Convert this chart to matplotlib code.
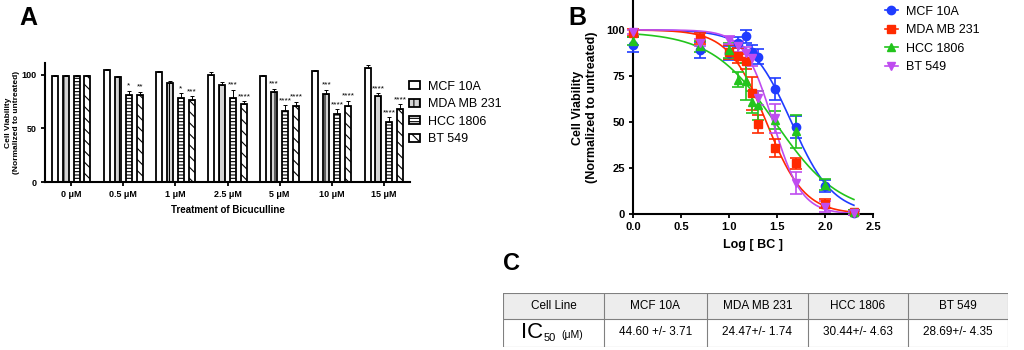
import numpy as np
import matplotlib.pyplot as plt
from matplotlib.patches import Patch, Rectangle
from matplotlib.lines import Line2D

plt.rcParams['font.family'] = ['Liberation Sans', 'DejaVu Sans']
plt.rcParams['hatch.linewidth'] = 0.8

# ---- panel A: bar data ----
doses = ['0 μM', '0.5 μM', '1 μM', '2.5 μM', '5 μM', '10 μM', '15 μM']
cell_lines = ['MCF 10A', 'MDA MB 231', 'HCC 1806', 'BT 549']
mcf_bar = [99, 104.5, 102.5, 99.7, 99, 103.4, 106]
mda_bar = [99, 97.5, 92.5, 90.4, 83.5, 82.3, 80.4]
hcc_bar = [99, 81.5, 78.5, 78, 65.8, 63.4, 55.6]
bt_bar = [99, 81, 76.4, 73, 71, 70.5, 68]
mcf_err = [0.5, 1, 1.5, 3, 1, 0.8, 3]
mda_err = [0.5, 1.5, 1.5, 3, 3.5, 3.7, 2.6]
hcc_err = [0.5, 3.5, 4.5, 8, 6, 4.6, 4.6]
bt_err = [0.5, 3, 3.5, 2.5, 4, 5.5, 4.7]
stars = [['', '', '', ''],
         ['', '', '*', '**'],
         ['', '', '*', '***'],
         ['', '', '***', '****'],
         ['', '***', '****', '****'],
         ['', '***', '****', '****'],
         ['', '****', '****', '****']]

# ---- panel B: dose response data ----
log_bc = [0, 0.699, 1.0, 1.097, 1.176, 1.243, 1.301, 1.477, 1.699, 2.0, 2.301]
mcf_via = [92, 89, 87.5, 93, 96.5, 88, 85.5, 68, 47.5, 15.2, 0.5]
mcf_sd = [4, 4.5, 4, 3, 3.5, 4, 4, 6, 6, 3, 1]
mda_via = [98.5, 95.5, 88, 86, 83, 65.5, 49, 35.7, 27.5, 5.5, 1]
mda_sd = [2, 3, 4, 4, 4, 9, 5, 5, 3, 2.5, 1]
hcc_via = [94, 91, 89, 73, 72, 61, 59, 51, 45, 16, 1]
hcc_sd = [2, 3, 4, 4, 10, 6, 8, 5, 9, 3, 1]
bt_via = [99, 93, 94.5, 91, 87.5, 84.5, 63, 52, 17, 4, 0.7]
bt_sd = [1, 2, 2, 3, 3, 4, 4, 8, 6, 3, 1]
hill = [2.0, 2.2, 1.3, 2.9]
top = [100, 100, 99, 100]

# ---- panel C: IC50 table ----
ic50_mean = [44.60, 24.47, 30.44, 28.69]
ic50_text = ['44.60 +/- 3.71', '24.47+/- 1.74', '30.44+/- 4.63', '28.69+/- 4.35']

fig = plt.figure(figsize=(10.24, 3.5), dpi=100)

# ================= A =================
ax = fig.add_axes([45/1024, 168/350, 365/1024, 119/350])
x = np.arange(len(doses))
w = 0.115
offs = [-0.315, -0.105, 0.105, 0.315]
bars = [mcf_bar, mda_bar, hcc_bar, bt_bar]
errs = [mcf_err, mda_err, hcc_err, bt_err]
faces = ['white', '#d4d4d4', 'white', 'white']
hatches = [None, '|||', '-----', '\\\\\\']
for i in range(4):
    ax.bar(x + offs[i], bars[i], w, color=faces[i], edgecolor='black',
           linewidth=1.3, hatch=hatches[i], zorder=2)
    ax.errorbar(x + offs[i], bars[i], yerr=[np.zeros(len(x)), errs[i]],
                fmt='none', ecolor='black', elinewidth=0.7, capsize=1.5,
                capthick=0.7, zorder=3)
    for j in range(len(x)):
        if stars[j][i]:
            ax.text(x[j] + offs[i], bars[i][j] + errs[i][j] + 1, stars[j][i],
                    ha='center', va='bottom', fontsize=6)
ax.set_xlim(-0.5, 6.5)
ax.set_ylim(0, 111)
ax.set_yticks([0, 50, 100])
ax.set_xticks(x)
ax.set_xticklabels(doses)
for s in ['top', 'right']:
    ax.spines[s].set_visible(False)
for s in ['left', 'bottom']:
    ax.spines[s].set_linewidth(1.5)
ax.tick_params(width=1.3, length=3, labelsize=6.5, pad=3)
for t in ax.get_xticklabels() + ax.get_yticklabels():
    t.set_fontweight('bold')
ax.set_ylabel('Cell Viability\n(Normalized to untreated)', fontsize=6,
              fontweight='bold', labelpad=1, linespacing=1.15)
ax.set_xlabel('Treatment of Bicuculline', fontsize=7, fontweight='bold', labelpad=4)

handles = [Patch(facecolor=faces[i], edgecolor='black', linewidth=1.3,
                 hatch=hatches[i]) for i in range(4)]
fig.legend(handles, cell_lines, loc='upper left', bbox_to_anchor=(409/1024, 0.77),
           frameon=False, fontsize=9, handlelength=0.85, handleheight=0.6,
           handletextpad=0.7, labelspacing=0.45, borderpad=0, borderaxespad=0)

# ================= B =================
bx = fig.add_axes([633/1024, 136/350, 240/1024, 213/350])
colors = ['#1f3cff', '#ff2a00', '#22c41c', '#bf4cf0']
markers = ['o', 's', '^', 'v']
vias = [mcf_via, mda_via, hcc_via, bt_via]
sds = [mcf_sd, mda_sd, hcc_sd, bt_sd]
xc = np.linspace(0, 2.301, 200)
for i in range(4):
    yc = top[i] / (1 + 10 ** (hill[i] * (xc - np.log10(ic50_mean[i]))))
    bx.plot(xc, yc, color=colors[i], lw=1.2, zorder=2)
    bx.errorbar(log_bc, vias[i], yerr=sds[i], fmt=markers[i], color=colors[i],
                markersize=6, elinewidth=1.2, capsize=4, capthick=1.2,
                clip_on=False, zorder=3)
bx.set_xlim(0, 2.5)
bx.set_ylim(0, 115.7)
bx.set_xticks([0, 0.5, 1.0, 1.5, 2.0, 2.5])
bx.set_xticklabels(['0.0', '0.5', '1.0', '1.5', '2.0', '2.5'])
bx.set_yticks([0, 25, 50, 75, 100])
for s in ['top', 'right']:
    bx.spines[s].set_visible(False)
for s in ['left', 'bottom']:
    bx.spines[s].set_linewidth(1.5)
bx.tick_params(width=1.3, length=3, labelsize=8, pad=3)
for t in bx.get_xticklabels() + bx.get_yticklabels():
    t.set_fontweight('bold')
bx.set_ylabel('Cell Viability\n(Normalized to untreated)', fontsize=9,
              fontweight='bold', labelpad=6)
bx.set_xlabel('Log [ BC ]', fontsize=9, fontweight='bold', labelpad=5)

lh = [Line2D([], [], color=colors[i], marker=markers[i], markersize=6, lw=1.2)
      for i in range(4)]
fig.legend(lh, cell_lines, loc='upper left', bbox_to_anchor=(885/1024, 0.984),
           frameon=False, fontsize=9, handlelength=1.0, handletextpad=0.7,
           labelspacing=0.52, borderpad=0, borderaxespad=0)

# ================= C =================
tx = fig.add_axes([503/1024, 3/350, 505/1024, 54/350])
tx.set_xlim(503, 1008)
tx.set_ylim(347, 293)
tx.axis('off')
edges = [503, 604, 707, 808, 908, 1008]
tx.add_patch(Rectangle((503, 293), 505, 26, facecolor='#ededed', edgecolor='none'))
for e in edges:
    tx.plot([e, e], [293, 347], color='#808080', lw=0.8)
for yy in [293, 319, 347]:
    tx.plot([503, 1008], [yy, yy], color='#808080', lw=0.8)
header = ['Cell Line'] + cell_lines
for k in range(5):
    tx.text((edges[k] + edges[k+1]) / 2, 306, header[k], ha='center', va='center',
            fontsize=8.5)
for k in range(4):
    tx.text((edges[k+1] + edges[k+2]) / 2, 332, ic50_text[k], ha='center',
            va='center', fontsize=8.5)
tx.text(543, 333, 'IC', ha='right', va='center', fontsize=16)
tx.text(544, 338, '50', ha='left', va='center', fontsize=8)
tx.text(561, 335, '(μM)', ha='left', va='center', fontsize=7.5)

# panel letters
fig.text(28/1024, 1 - 18/350, 'A', fontsize=18, fontweight='bold', ha='center', va='center')
fig.text(577/1024, 1 - 18/350, 'B', fontsize=18, fontweight='bold', ha='center', va='center')
fig.text(511/1024, 1 - 264/350, 'C', fontsize=17, fontweight='bold', ha='center', va='center')

fig.savefig('out.png', dpi=100)
